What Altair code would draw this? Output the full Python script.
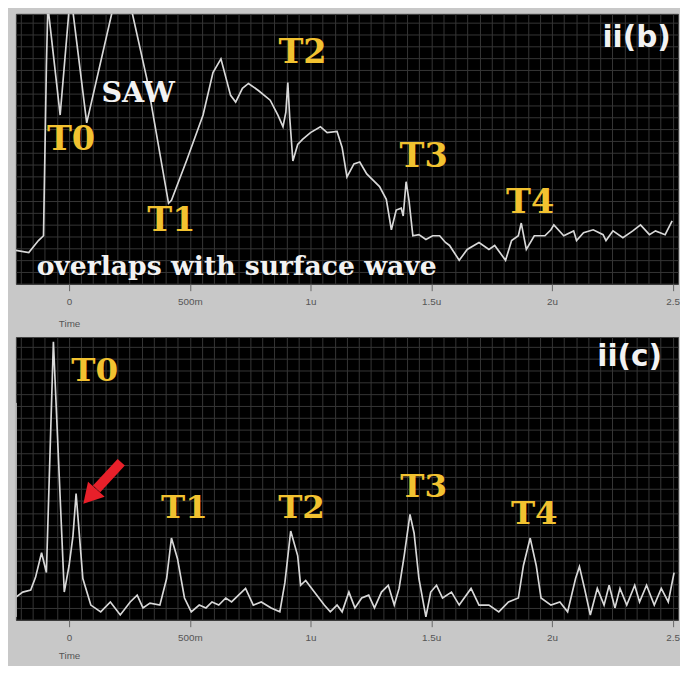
import altair as alt
import pandas as pd

# ---------------- data ----------------
# panel ii(b): time in microseconds, amplitude in arbitrary units (0-100 = screen)
b_time = [-0.220, -0.167, -0.127, -0.106, -0.094, -0.088, -0.037, 0.006, 0.073, 0.220,
          0.322, 0.412, 0.424, 0.486, 0.555, 0.596, 0.629, 0.669, 0.690, 0.718,
          0.743, 0.784, 0.833, 0.865, 0.886, 0.898, 0.906, 0.914, 0.927, 0.947,
          0.967, 1.000, 1.041, 1.069, 1.110, 1.131, 1.151, 1.180, 1.204, 1.233,
          1.261, 1.286, 1.314, 1.335, 1.355, 1.376, 1.384, 1.396, 1.408, 1.424,
          1.449, 1.478, 1.506, 1.535, 1.559, 1.576, 1.616, 1.649, 1.698, 1.739,
          1.763, 1.808, 1.833, 1.861, 1.873, 1.894, 1.927, 1.971, 1.996, 2.008,
          2.049, 2.090, 2.102, 2.131, 2.171, 2.212, 2.224, 2.253, 2.294, 2.335,
          2.367, 2.404, 2.429, 2.469, 2.498]
b_amp = [12.4, 11.6, 16.0, 17.8, 80.7, 103.0, 62.5, 108.0, 59.6, 117.0,
         76.0, 29.8, 30.9, 45.5, 62.5, 78.2, 83.3, 69.8, 67.3, 72.4,
         74.2, 71.6, 68.0, 62.5, 58.2, 63.6, 74.5, 61.5, 45.5, 51.6,
         53.5, 56.0, 58.2, 56.0, 56.4, 50.5, 39.6, 44.4, 45.1, 40.7,
         38.2, 36.0, 31.3, 20.0, 27.3, 28.0, 25.1, 37.8, 30.9, 17.8,
         18.2, 16.4, 17.8, 17.8, 15.3, 14.2, 8.7, 12.7, 15.3, 12.7,
         14.2, 8.7, 16.0, 17.8, 22.5, 12.7, 17.8, 17.8, 20.0, 21.8,
         17.8, 19.6, 16.0, 18.9, 20.0, 18.2, 16.0, 19.6, 17.1, 19.6,
         21.8, 18.2, 19.6, 18.2, 23.3]

# panel ii(c)
c_time = [-0.220, -0.192, -0.159, -0.139, -0.114, -0.094, -0.065, -0.020, 0.000, 0.016,
          0.029, 0.057, 0.090, 0.131, 0.171, 0.212, 0.253, 0.282, 0.306, 0.335,
          0.376, 0.404, 0.424, 0.449, 0.478, 0.506, 0.539, 0.567, 0.592, 0.620,
          0.649, 0.673, 0.702, 0.731, 0.763, 0.796, 0.837, 0.873, 0.894, 0.918,
          0.947, 0.959, 0.980, 1.016, 1.057, 1.082, 1.110, 1.131, 1.159, 1.184,
          1.212, 1.241, 1.265, 1.294, 1.322, 1.347, 1.367, 1.388, 1.412, 1.429,
          1.449, 1.478, 1.498, 1.522, 1.547, 1.584, 1.616, 1.665, 1.698, 1.739,
          1.780, 1.820, 1.861, 1.882, 1.910, 1.935, 1.955, 1.996, 2.033, 2.065,
          2.098, 2.114, 2.135, 2.159, 2.188, 2.216, 2.237, 2.261, 2.282, 2.310,
          2.343, 2.363, 2.392, 2.424, 2.453, 2.482, 2.506]
c_amp = [8.0, 9.8, 10.5, 15.0, 23.7, 16.7, 98.3, 9.8, 19.2, 29.6,
         44.6, 14.6, 5.2, 2.8, 6.3, 1.7, 6.3, 8.7, 4.2, 5.9,
         5.2, 14.6, 28.9, 21.6, 7.7, 2.8, 5.2, 4.2, 6.3, 5.2,
         7.7, 6.3, 8.7, 11.1, 5.2, 6.3, 4.2, 2.8, 13.2, 31.4,
         22.6, 12.2, 13.9, 9.8, 5.2, 2.8, 5.2, 2.8, 9.8, 4.2,
         7.7, 8.7, 4.2, 9.8, 12.2, 5.2, 11.1, 22.6, 37.3, 30.7,
         14.6, 1.0, 9.8, 12.2, 7.7, 9.8, 5.2, 11.1, 5.2, 5.2,
         2.8, 6.3, 7.7, 19.2, 28.9, 19.2, 7.7, 5.2, 6.3, 2.8,
         14.6, 18.8, 11.1, 1.7, 11.1, 5.2, 12.2, 4.2, 11.1, 5.2,
         12.2, 6.3, 12.2, 5.2, 11.1, 6.3, 16.7]

# annotations (label text, time, amplitude)
b_peak_text = ["T0", "T1", "T2", "T3", "T4"]
b_peak_time = [0.008, 0.424, 0.967, 1.469, 1.910]
b_peak_amp = [53.1, 23.3, 85.5, 46.9, 29.8]

c_peak_text = ["T0", "T1", "T2", "T3", "T4"]
c_peak_time = [0.106, 0.478, 0.963, 1.469, 1.927]
c_peak_amp = [87.8, 39.4, 39.4, 47.0, 37.3]

saw_text, saw_time, saw_amp = ["SAW"], [0.286], [70.5]
note_text, note_time, note_amp = ["overlaps with surface wave"], [0.694], [6.2]
b_tag_text, b_tag_time, b_tag_amp = ["ii(b)"], [2.351], [91.0]
c_tag_text, c_tag_time, c_tag_amp = ["ii(c)"], [2.322], [93.0]

# red arrow in ii(c): shaft tail -> shaft end, head centre
arrow_t, arrow_a, arrow_t2, arrow_a2 = [0.216], [55.7], [0.114], [46.3]
head_t, head_a = [0.086], [43.6]

# left-edge channel marker in ii(c)
marker_a, marker_a2 = [1.0], [76.7]

tick_values = [0, 0.5, 1, 1.5, 2, 2.5]
tick_labels = ["0", "500m", "1u", "1.5u", "2u", "2.5"]

# ---------------- chart ----------------
X_DOMAIN = [-0.2204, 2.5224]
grid_x = [round(-0.2 + 0.05 * i, 3) for i in range(55)]

label_expr = " : ".join(
    f"abs(datum.value - {v}) < 0.001 ? '{l}'" for v, l in zip(tick_values, tick_labels)
) + " : ''"
tick_test = " || ".join(f"abs(datum.value - {v}) < 0.001" for v in tick_values)

YELLOW = "#f2c230"
WHITE = "#f2f2f2"
GRID = "#363636"


def x_enc(title_y):
    return alt.X(
        "t:Q",
        scale=alt.Scale(domain=X_DOMAIN, nice=False, zero=False),
        axis=alt.Axis(
            values=grid_x, tickCount=500, labelExpr=label_expr, labelOverlap=False, labelFlush=False,
            grid=True, gridColor=GRID, gridWidth=1, domain=False,
            ticks=True, tickSize=7, tickColor="#666",
            tickOpacity={"condition": {"test": tick_test, "value": 1}, "value": 0},
            labelPadding=6, labelFont="Liberation Sans", labelFontSize=10, labelColor="#555",
            title="Time", titleFont="Liberation Sans", titleFontSize=10, titleFontWeight="normal",
            titleColor="#555", titleX=54, titleY=title_y, titleAlign="center", titleBaseline="middle",
        ),
    )


def y_enc(step, n):
    return alt.Y(
        "a:Q",
        scale=alt.Scale(domain=[0, 100], nice=False, zero=False),
        axis=alt.Axis(
            values=[round(i * step, 2) for i in range(n)], tickCount=500, labels=False, ticks=False,
            domain=False, title=None, grid=True, gridColor=GRID, gridWidth=1,
            minExtent=0, maxExtent=0,
        ),
    )


def df(t, a, text=None):
    d = pd.DataFrame({"t": t, "a": a})
    if text is not None:
        d["label"] = text
    return d


def text_layer(d, font, size, color):
    return alt.Chart(d).mark_text(
        font=font, fontSize=size, fontWeight="bold", color=color, align="center", baseline="middle"
    ).encode(x="t:Q", y="a:Q", text="label:N")


def panel(t, a, step, n, height, title_y, extra):
    base = alt.Chart(df(t, a)).mark_line(clip=True, color="#d8d8d8", strokeWidth=1.7).encode(
        x=x_enc(title_y), y=y_enc(step, n)
    )
    return alt.layer(base, *extra).properties(width=672, height=height)


b_extra = [
    text_layer(df(b_peak_time, b_peak_amp, b_peak_text), "DejaVu Serif", 34, YELLOW),
    text_layer(df(saw_time, saw_amp, saw_text), "DejaVu Serif", 29, WHITE),
    text_layer(df(note_time, note_amp, note_text), "DejaVu Serif", 27, WHITE),
    text_layer(df(b_tag_time, b_tag_amp, b_tag_text), "DejaVu Sans", 30, WHITE),
]

arrow_df = pd.DataFrame({"t": arrow_t, "a": arrow_a, "t2": arrow_t2, "a2": arrow_a2})
marker_df = pd.DataFrame({"t": [X_DOMAIN[0]], "a": marker_a, "a2": marker_a2})
c_extra = [
    alt.Chart(marker_df).mark_rule(color="#b8b8b8", strokeWidth=2).encode(
        x="t:Q", y="a:Q", y2="a2:Q"
    ),
    text_layer(df(c_peak_time, c_peak_amp, c_peak_text), "DejaVu Serif", 33, YELLOW),
    text_layer(df(c_tag_time, c_tag_amp, c_tag_text), "DejaVu Sans", 30, WHITE),
    alt.Chart(arrow_df).mark_rule(color="#e8202a", strokeWidth=10).encode(
        x="t:Q", y="a:Q", x2="t2:Q", y2="a2:Q"
    ),
    alt.Chart(df(head_t, head_a)).mark_point(
        shape="triangle-up", filled=True, size=520, angle=222, color="#e8202a", opacity=1
    ).encode(x="t:Q", y="a:Q"),
]

top = panel(b_time, b_amp, 4.4, 23, 274, 40, b_extra)
bottom = panel(c_time, c_amp, 4.2, 24, 287, 36, c_extra)

chart = alt.vconcat(top, bottom, spacing=7).properties(
    background="#c8c8c8",
    padding={"left": 6, "top": 0, "right": 0, "bottom": 0},
).configure_view(fill="black", stroke="#444", strokeWidth=1)

chart.save("out.html", embed_options={"renderer": "svg", "actions": False})
